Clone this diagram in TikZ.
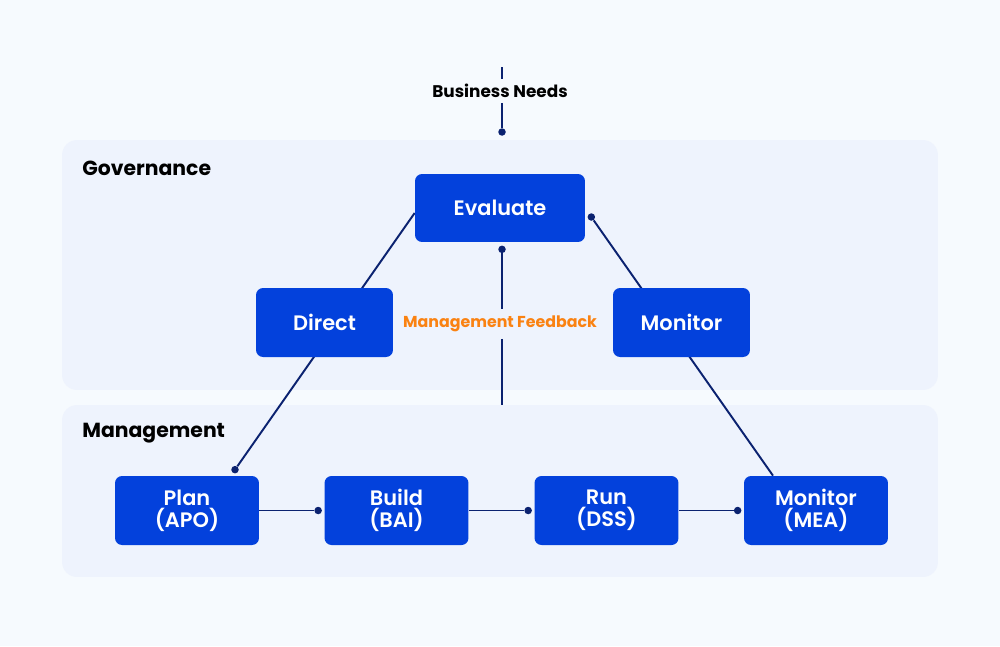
\documentclass[tikz,border=0pt]{standalone}
\usepackage{fontspec}
\setmainfont{Poppins}[BoldFont={Poppins SemiBold}]
\newfontfamily\heavy{Poppins Bold}
\usetikzlibrary{backgrounds,calc}
\definecolor{pagebg}{HTML}{F6FAFE}
\definecolor{panelbg}{HTML}{EEF3FD}
\definecolor{boxblue}{HTML}{0341DC}
\definecolor{linenavy}{HTML}{0B2270}
\definecolor{fbkorange}{HTML}{FA8212}

\begin{document}
\begin{tikzpicture}[x=0.02cm,y=-0.02cm,
  panel/.style={fill=panelbg, rounded corners=0.3cm, minimum width=17.52cm, inner sep=0pt},
  box/.style={fill=boxblue, text=white, rounded corners=0.14cm, minimum width=2.74cm, minimum height=1.38cm, inner sep=0pt, font=\fontsize{11.9}{12.6}\selectfont\bfseries, align=center},
  wbox/.style={box, minimum width=2.88cm},
  lnk/.style={draw=linenavy, line width=1.1pt},
  dot/.style={circle, fill=linenavy, inner sep=0pt, minimum size=0.15cm},
  ttl/.style={font=\fontsize{11.6}{13}\heavy, anchor=west, inner sep=0pt}
]
% ---- canvas + panels ----
\begin{scope}[on background layer]
\fill[pagebg] (0,0) rectangle (1000,646);
\useasboundingbox (0,0) rectangle (1000,646);
\node[panel, minimum height=5cm]    (gov)  at (500,265) {};
\node[panel, minimum height=3.44cm] (mgmt) at (500,491) {};
\end{scope}

\node[ttl] (govttl) at (82,168) {Governance};
\node[ttl] (mgmtttl) at (82,433) {Management};

% ===== GOVERNANCE =====
\node[box, minimum width=3.4cm, minimum height=1.36cm] (evaluate) at (500,208) {Evaluate};
\node[box] (direct)  at (324.5,322.5) {Direct};
\node[box] (monitor) at (681.5,322.5) {Monitor};

% ===== MANAGEMENT =====
\node[wbox] (plan)  at (187,510.5)   {Plan\\(APO)};
\node[wbox] (build) at (396.5,510.5) {Build\\(BAI)};
\node[wbox] (run)   at (606.5,510.5) {Run\\(DSS)};
\node[wbox] (mea)   at (816,510.5)   {Monitor\\(MEA)};

% labels
\node[font=\fontsize{9.6}{11}\heavy, minimum height=0.46cm, inner sep=0pt] (bneeds) at (500,91) {Business Needs};
\node[font=\fontsize{9}{11}\heavy, text=fbkorange, minimum height=0.58cm, inner sep=0pt] (mfb) at (500,324) {Management Feedback};

% ---- end points ----
\coordinate (bntop) at (502,67);
\node[dot] (bndot)  at (502,132) {};
\node[dot] (evdot)  at ($(evaluate.south)+(2,7)$) {};
\node[dot] (evrdot) at ($(evaluate.east)+(6,9)$) {};
\node[dot] (pdot)   at ($(plan.north)+(48,-6)$) {};
\coordinate (evl)  at ($(evaluate.west)+(0,5)$);
\coordinate (mear) at ($(mea.north)+(-43,0)$);
\node[dot] (bdot) at ($(build.west)+(-6,0)$) {};
\node[dot] (rdot) at ($(run.west)+(-6,0)$) {};
\node[dot] (mdot) at ($(mea.west)+(-6,0)$) {};

% ---- connectors (behind the boxes) ----
\begin{scope}[on background layer]
\draw[lnk] (bntop) -- (bntop |- bneeds.north);
\draw[lnk] (bntop |- bneeds.south) -- (bndot);
\draw[lnk] (evdot) -- (evdot |- mfb.north);
\draw[lnk] (evdot |- mfb.south) -- (evdot |- mgmt.north);
\draw[lnk] (evl) -- (pdot);
\draw[lnk] (evrdot) -- (mear);
\draw[lnk] (plan) -- (bdot);
\draw[lnk] (build) -- (rdot);
\draw[lnk] (run) -- (mdot);
\end{scope}
\end{tikzpicture}
\end{document}
